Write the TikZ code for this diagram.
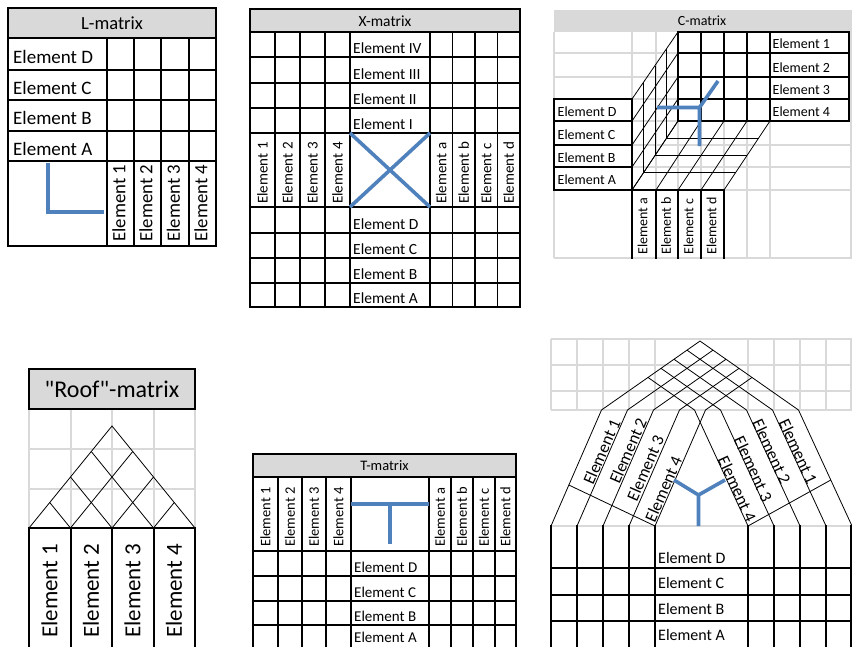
\documentclass[tikz,border=0pt]{standalone}
\usepackage{fontspec}
\setmainfont{Carlito}
\newfontfamily\rooffont{Carlito}[Ligatures=TeXOff]
\definecolor{gridgray}{RGB}{217,217,217}
\definecolor{titlegray}{RGB}{217,217,217}
\definecolor{exblue}{RGB}{79,129,189}
\tikzset{
  blk/.style={draw=black,line width=1.7pt,line cap=rect},
  thn/.style={draw=black,line width=0.8pt},
  grd/.style={draw=gridgray,line width=1.5pt},
  blu/.style={draw=exblue,line width=3.6pt},
  hl/.style={inner sep=0pt,anchor=base west},
  vl/.style={inner sep=0pt,anchor=west,rotate=90},
  fs/.style={font=\fontsize{#1}{#1}\selectfont},
}
\begin{document}
\begin{tikzpicture}[x=1pt,y=-1pt]
\clip (0,0) rectangle (852,646);
\fill[white] (0,0) rectangle (852,646);

% ---------------- L-matrix ----------------
\fill[titlegray] (8,8) rectangle (216,38);
\draw[blk] (8,8) rectangle (216,246);
\foreach \yy in {38,70,100,131,161} \draw[blk] (8,\yy) -- (216,\yy);
\foreach \xx in {107,134,161,189} \draw[blk] (\xx,38) -- (\xx,246);
\draw[blu] (48,163) -- (48,212) -- (104,212);
\node[fs=18.5] (Ltitle) at (112,23.5) {L-matrix};
\foreach \lbl/\yy in {D/63.5,C/94,B/124.5,A/155} \node[hl,fs=19] (L\lbl) at (13,\yy) {Element \lbl};
\foreach \lbl/\xx in {1/119,2/146,3/173.5,4/201} \node[vl,fs=18.8] (L\lbl) at (\xx,242) {Element \lbl};

% ---------------- X-matrix ----------------
\fill[titlegray] (250,9) rectangle (520,32);
\draw[blk] (250,9) rectangle (520,307);
\foreach \yy in {32,57,83,108,133,207,233,258,283} \draw[blk] (250,\yy) -- (520,\yy);
\foreach \xx in {275,300,325,350,430,452.5,475,497.5} \draw[blk] (\xx,32) -- (\xx,307);
\draw[blu] (350,133) -- (430,207) (350,207) -- (430,133);
\node[fs=15.5] (Xtitle) at (385,21) {X-matrix};
\foreach \lbl/\yy in {IV/53,III/79,II/104,I/129,D/229,C/254,B/279,A/303} \node[hl,fs=15.5] (X\lbl) at (353,\yy) {Element \lbl};
\foreach \lbl/\xx in {1/262.5,2/287.5,3/312.5,4/337.5,a/441.2,b/463.7,c/486.2,d/508.7} \node[vl,fs=15] (X\lbl) at (\xx,204) {Element \lbl};

% ---------------- C-matrix ----------------
\fill[titlegray] (554,10) rectangle (852,32);
\foreach \xx in {554,632,656,678,701,724,747,770,851} \draw[grd] (\xx,32) -- (\xx,258);
\foreach \yy in {53,77,99,121,145,167,190,258} \draw[grd] (554,\yy) -- (852,\yy);
\foreach \ya/\yb in {99/32,121/53,145/77,167/99,190/121} \draw[thn] (632,\ya) -- (678,\yb);
\foreach \xa/\xb in {632/678,656/701,678/724,701/747,724/770} \draw[thn] (\xa,190) -- (\xb,121);
\foreach \tt in {0.25,0.5,0.75} {
  \draw[thn] ({632+46*\tt},{99-67*\tt}) -- ({632+46*\tt},{190-69*\tt});
  \draw[thn] ({632+46*\tt},{190-69*\tt}) -- ({724+46*\tt},{190-69*\tt});
}
\foreach \yy in {32,53,77,99,121} \draw[blk] (678,\yy) -- (849,\yy);
\foreach \xx in {678,701,724,747,770,849} \draw[blk] (\xx,32) -- (\xx,121);
\foreach \yy in {99,121,145,167,190} \draw[blk] (554,\yy) -- (632,\yy);
\draw[blk] (554,99) -- (554,190) (632,99) -- (632,190);
\draw[blk] (632,190) -- (724,190);
\foreach \xx in {632,656,678,701,724} \draw[blk] (\xx,190) -- (\xx,258);
\draw[blu] (657,107.5) -- (699.5,107.5) -- (718,81) (699.5,107.5) -- (699.5,146);
\node[fs=14] (Ctitle) at (702,21) {C-matrix};
\foreach \lbl/\yy in {1/48.5,2/72.5,3/94.5,4/116.5} \node[hl,fs=14] (C\lbl) at (772.5,\yy) {Element \lbl};
\foreach \lbl/\yy in {D/116.5,C/139.5,B/162,A/184.5} \node[hl,fs=14] (C\lbl) at (557.5,\yy) {Element \lbl};
\foreach \lbl/\xx in {a/642.5,b/666,c/688.5,d/711.5} \node[vl,fs=14] (C\lbl) at (\xx,255) {Element \lbl};

% ---------------- Roof-matrix ----------------
\foreach \xx in {29,71,112,154,195} \draw[grd] (\xx,409) -- (\xx,528);
\foreach \yy in {449,489} \draw[grd] (29,\yy) -- (195,\yy);
\fill[titlegray] (29,369) rectangle (195,409);
\draw[blk] (29,369) rectangle (195,409);
\draw[thn] (29,528) -- (112,426) -- (195,528);
\draw[thn] (49.75,502.5) -- (70.5,528) -- (132.75,451.5);
\draw[thn] (70.5,477) -- (112,528) -- (153.5,477);
\draw[thn] (91.25,451.5) -- (153.5,528) -- (174.25,502.5);
\draw[blk] (29,528) -- (195,528);
\foreach \xx in {29,71,112,154,195} \draw[blk] (\xx,528) -- (\xx,650);
\node[fs=24] (Rtitle) at (112,389) {\rooffont "Roof"-matrix};
\foreach \lbl/\xx in {1/49.5,2/91,3/132.5,4/174} \node[vl,fs=23] (R\lbl) at (\xx,638) {Element \lbl};

% ---------------- T-matrix ----------------
\fill[titlegray] (253,454) rectangle (516,477);
\draw[blk] (253,454) rectangle (516,477);
\foreach \yy in {551,576,601,625} \draw[blk] (253,\yy) -- (516,\yy);
\foreach \xx in {253,278,302,326,351,429,451,473,495,516} \draw[blk] (\xx,477) -- (\xx,650);
\draw[blu] (351,504) -- (429,504) (390,504) -- (390,544);
\node[fs=14.5] (Ttitle) at (384.5,466) {T-matrix};
\foreach \lbl/\yy in {D/572.5,C/597.5,B/621.5,A/642} \node[hl,fs=15] (T\lbl) at (354,\yy) {Element \lbl};
\foreach \lbl/\xx in {1/265.5,2/290,3/314,4/338.5,a/440,b/462,c/484,d/505.5} \node[vl,fs=14.5] (T\lbl) at (\xx,547) {Element \lbl};

% ---------------- bent matrix (bottom right) ----------------
\foreach \xx in {551,577,603,629,655,748,774,800,826,851} \draw[grd] (\xx,339) -- (\xx,410);
\foreach \yy in {339,365,391,410} \draw[grd] (551,\yy) -- (852,\yy);
\draw[grd] (551,526) -- (852,526);
\foreach \xa/\xb in {551/601.5,577/627.5,603/653.5,629/679.5,655/705.5}
  \draw[thn] (\xa,526) -- (\xb,410) -- ({(798.5+\xb)/2},{410-0.35*(798.5-\xb)});
\foreach \xa/\xb in {852/798.5,826/772.5,800/746.5,774/720.5,748/694.5}
  \draw[thn] (\xa,526) -- (\xb,410) -- ({(601.5+\xb)/2},{410-0.35*(\xb-601.5)});
\draw[thn] (568.8,485) -- (655,526);
\draw[thn] (748,526) -- (830.8,480);
\foreach \xx in {551,577,603,629,655,748,774,800,826,851} \draw[blk] (\xx,526) -- (\xx,650);
\foreach \yy in {568,595,621} \draw[blk] (551,\yy) -- (852,\yy);
\draw[blu] (674,480) -- (698.5,495) -- (725,480) (698.5,495) -- (698.5,526);
\foreach \lbl/\yy in {D/563,C/588.5,B/614,A/640} \node[hl,fs=16] (B\lbl) at (658,\yy) {Element \lbl};
\foreach \lbl/\xx/\yy in {1/601.7/451.7,2/628/450.7,3/645.3/468.3,4/663.3/489}
  \node[fs=17,inner sep=0pt,rotate=66.5] (SL\lbl) at (\xx,\yy) {Element \lbl};
\foreach \lbl/\xx/\yy in {1/798.3/451.7,2/771.7/451.7,3/753.3/469,4/737.3/489}
  \node[fs=17,inner sep=0pt,rotate=-65.2] (SR\lbl) at (\xx,\yy) {Element \lbl};
\end{tikzpicture}
\end{document}
